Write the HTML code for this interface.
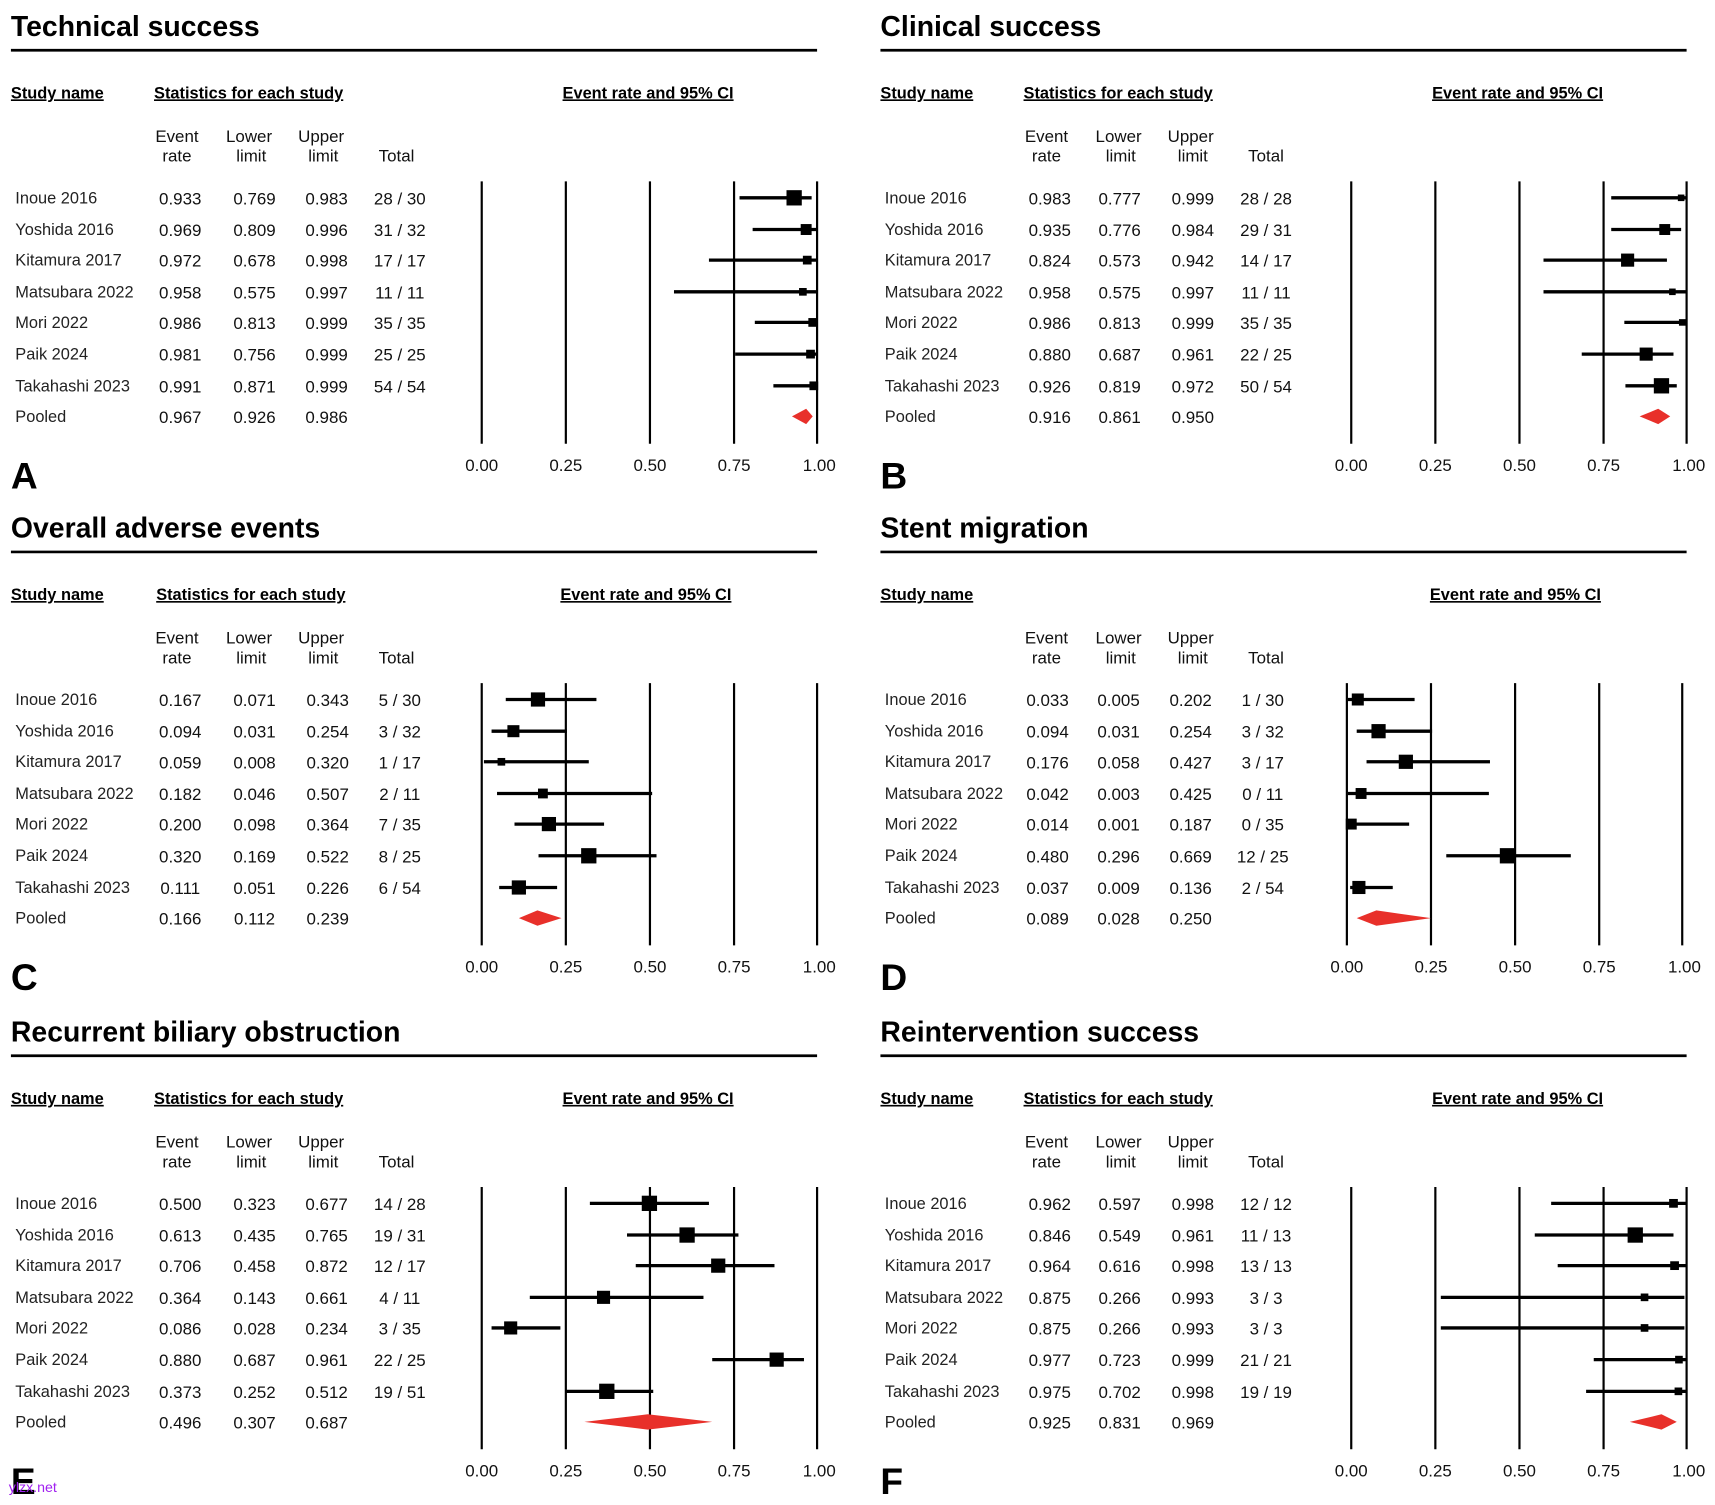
<!DOCTYPE html>
<html><head><meta charset="utf-8"><style>
html,body{margin:0;padding:0;background:#fff}
svg{display:block}
.t{font-family:"Liberation Sans",sans-serif;font-size:26px;font-weight:bold;fill:#000}
.h{font-family:"Liberation Sans",sans-serif;font-size:15px;font-weight:bold;fill:#000;text-decoration:underline}
.c{font-family:"Liberation Sans",sans-serif;font-size:15.5px;fill:#111;text-anchor:middle}
.n{font-family:"Liberation Sans",sans-serif;font-size:15px;fill:#222}
.v{font-family:"Liberation Sans",sans-serif;font-size:15.5px;fill:#111;text-anchor:middle}
.L{font-family:"Liberation Sans",sans-serif;font-size:34px;font-weight:bold;fill:#000}
.ax line{stroke:#000;stroke-width:2}
.ci line{stroke:#000;stroke-width:3}
.sq rect{fill:#000}
.d{fill:#e8302a}
</style></head><body>
<svg width="1715" height="1505" viewBox="0 0 1570 1377" preserveAspectRatio="none" xmlns="http://www.w3.org/2000/svg">
<defs>
<g id="axis" class="ax">
<line x1="441" y1="166" x2="441" y2="406"/><line x1="518" y1="166" x2="518" y2="406"/><line x1="595" y1="166" x2="595" y2="406"/><line x1="672" y1="166" x2="672" y2="406"/><line x1="748" y1="166" x2="748" y2="406"/>
<text class="v" x="441" y="431">0.00</text><text class="v" x="518" y="431">0.25</text><text class="v" x="595" y="431">0.50</text><text class="v" x="672" y="431">0.75</text><text class="v" x="750" y="431">1.00</text>
</g>
<g id="colh">
<line x1="10" y1="46" x2="748" y2="46" stroke="#000" stroke-width="2.5"/>
<text class="c" x="162" y="130">Event</text><text class="c" x="162" y="148">rate</text>
<text class="c" x="228" y="130">Lower</text><text class="c" x="230" y="148">limit</text>
<text class="c" x="294" y="130">Upper</text><text class="c" x="296" y="148">limit</text>
<text class="c" x="363" y="148">Total</text>
<text class="n" x="14" y="186">Inoue 2016</text><text class="n" x="14" y="215">Yoshida 2016</text><text class="n" x="14" y="243">Kitamura 2017</text><text class="n" x="14" y="272">Matsubara 2022</text><text class="n" x="14" y="300">Mori 2022</text><text class="n" x="14" y="329">Paik 2024</text><text class="n" x="14" y="358">Takahashi 2023</text><text class="n" x="14" y="386">Pooled</text>
</g>
</defs>

<!-- A -->
<g>
<text class="t" x="10" y="33">Technical success</text>
<use href="#colh"/>
<text class="h" x="10" y="90">Study name</text><text class="h" x="141" y="90">Statistics for each study</text><text class="h" x="515" y="90">Event rate and 95% CI</text>
<g class="v">
<text x="165" y="187">0.933</text><text x="233" y="187">0.769</text><text x="299" y="187">0.983</text><text x="366" y="187">28 / 30</text>
<text x="165" y="216">0.969</text><text x="233" y="216">0.809</text><text x="299" y="216">0.996</text><text x="366" y="216">31 / 32</text>
<text x="165" y="244">0.972</text><text x="233" y="244">0.678</text><text x="299" y="244">0.998</text><text x="366" y="244">17 / 17</text>
<text x="165" y="273">0.958</text><text x="233" y="273">0.575</text><text x="299" y="273">0.997</text><text x="366" y="273">11 / 11</text>
<text x="165" y="301">0.986</text><text x="233" y="301">0.813</text><text x="299" y="301">0.999</text><text x="366" y="301">35 / 35</text>
<text x="165" y="330">0.981</text><text x="233" y="330">0.756</text><text x="299" y="330">0.999</text><text x="366" y="330">25 / 25</text>
<text x="165" y="359">0.991</text><text x="233" y="359">0.871</text><text x="299" y="359">0.999</text><text x="366" y="359">54 / 54</text>
<text x="165" y="387">0.967</text><text x="233" y="387">0.926</text><text x="299" y="387">0.986</text>
</g>
<use href="#axis"/>
<g class="ci"><line x1="677" y1="181" x2="743" y2="181"/><line x1="689" y1="210" x2="747" y2="210"/><line x1="649" y1="238" x2="747" y2="238"/><line x1="617" y1="267" x2="747" y2="267"/><line x1="691" y1="295" x2="748" y2="295"/><line x1="673" y1="324" x2="748" y2="324"/><line x1="708" y1="353" x2="748" y2="353"/></g>
<g class="sq"><rect x="720" y="174" width="14" height="14"/><rect x="733" y="205" width="10" height="10"/><rect x="735" y="234" width="8" height="8"/><rect x="731.5" y="263.5" width="7" height="7"/><rect x="740" y="291" width="8" height="8"/><rect x="738" y="320" width="8" height="8"/><rect x="741" y="349" width="8" height="8"/></g>
<polygon class="d" points="725,381 738,374 744,381 738,388"/>
<text class="L" x="10" y="447">A</text>
</g>

<!-- B -->
<g transform="translate(796,0)">
<text class="t" x="10" y="33">Clinical success</text>
<use href="#colh"/>
<text class="h" x="10" y="90">Study name</text><text class="h" x="141" y="90">Statistics for each study</text><text class="h" x="515" y="90">Event rate and 95% CI</text>
<g class="v">
<text x="165" y="187">0.983</text><text x="229" y="187">0.777</text><text x="296" y="187">0.999</text><text x="363" y="187">28 / 28</text>
<text x="165" y="216">0.935</text><text x="229" y="216">0.776</text><text x="296" y="216">0.984</text><text x="363" y="216">29 / 31</text>
<text x="165" y="244">0.824</text><text x="229" y="244">0.573</text><text x="296" y="244">0.942</text><text x="363" y="244">14 / 17</text>
<text x="165" y="273">0.958</text><text x="229" y="273">0.575</text><text x="296" y="273">0.997</text><text x="363" y="273">11 / 11</text>
<text x="165" y="301">0.986</text><text x="229" y="301">0.813</text><text x="296" y="301">0.999</text><text x="363" y="301">35 / 35</text>
<text x="165" y="330">0.880</text><text x="229" y="330">0.687</text><text x="296" y="330">0.961</text><text x="363" y="330">22 / 25</text>
<text x="165" y="359">0.926</text><text x="229" y="359">0.819</text><text x="296" y="359">0.972</text><text x="363" y="359">50 / 54</text>
<text x="165" y="387">0.916</text><text x="229" y="387">0.861</text><text x="296" y="387">0.950</text>
</g>
<use href="#axis"/>
<g class="ci"><line x1="679" y1="181" x2="748" y2="181"/><line x1="679" y1="210" x2="743" y2="210"/><line x1="617" y1="238" x2="730" y2="238"/><line x1="617" y1="267" x2="747" y2="267"/><line x1="691" y1="295" x2="748" y2="295"/><line x1="652" y1="324" x2="736" y2="324"/><line x1="692" y1="353" x2="739" y2="353"/></g>
<g class="sq"><rect x="740" y="178" width="6" height="6"/><rect x="723" y="205" width="10" height="10"/><rect x="688" y="232" width="12" height="12"/><rect x="732" y="264" width="6" height="6"/><rect x="741" y="292" width="6" height="6"/><rect x="705" y="318" width="12" height="12"/><rect x="718" y="346" width="14" height="14"/></g>
<polygon class="d" points="705,381 722,374 733,381 722,388"/>
<text class="L" x="10" y="447">B</text>
</g>

<!-- C -->
<g transform="translate(0,459)">
<text class="t" x="10" y="33">Overall adverse events</text>
<use href="#colh"/>
<text class="h" x="10" y="90">Study name</text><text class="h" x="143" y="90">Statistics for each study</text><text class="h" x="513" y="90">Event rate and 95% CI</text>
<g class="v">
<text x="165" y="187">0.167</text><text x="233" y="187">0.071</text><text x="300" y="187">0.343</text><text x="366" y="187">5 / 30</text>
<text x="165" y="216">0.094</text><text x="233" y="216">0.031</text><text x="300" y="216">0.254</text><text x="366" y="216">3 / 32</text>
<text x="165" y="244">0.059</text><text x="233" y="244">0.008</text><text x="300" y="244">0.320</text><text x="366" y="244">1 / 17</text>
<text x="165" y="273">0.182</text><text x="233" y="273">0.046</text><text x="300" y="273">0.507</text><text x="366" y="273">2 / 11</text>
<text x="165" y="301">0.200</text><text x="233" y="301">0.098</text><text x="300" y="301">0.364</text><text x="366" y="301">7 / 35</text>
<text x="165" y="330">0.320</text><text x="233" y="330">0.169</text><text x="300" y="330">0.522</text><text x="366" y="330">8 / 25</text>
<text x="165" y="359">0.111</text><text x="233" y="359">0.051</text><text x="300" y="359">0.226</text><text x="366" y="359">6 / 54</text>
<text x="165" y="387">0.166</text><text x="233" y="387">0.112</text><text x="300" y="387">0.239</text>
</g>
<use href="#axis"/>
<g class="ci"><line x1="463" y1="181" x2="546" y2="181"/><line x1="450" y1="210" x2="519" y2="210"/><line x1="443" y1="238" x2="539" y2="238"/><line x1="455" y1="267" x2="597" y2="267"/><line x1="471" y1="295" x2="553" y2="295"/><line x1="493" y1="324" x2="601" y2="324"/><line x1="457" y1="353" x2="510" y2="353"/></g>
<g class="sq"><rect x="486" y="174.5" width="13" height="13"/><rect x="464.5" y="204.5" width="11" height="11"/><rect x="455.5" y="234.5" width="7" height="7"/><rect x="492.5" y="262.5" width="9" height="9"/><rect x="496" y="288.5" width="13" height="13"/><rect x="532" y="317" width="14" height="14"/><rect x="468.5" y="346.5" width="13" height="13"/></g>
<polygon class="d" points="475,381 492,374 514,381 492,388"/>
<text class="L" x="10" y="447">C</text>
</g>

<!-- D -->
<g transform="translate(796,459)">
<text class="t" x="10" y="33">Stent migration</text>
<use href="#colh"/>
<text class="h" x="10" y="90">Study name</text><text class="h" x="513" y="90">Event rate and 95% CI</text>
<g class="v">
<text x="163" y="187">0.033</text><text x="228" y="187">0.005</text><text x="294" y="187">0.202</text><text x="360" y="187">1 / 30</text>
<text x="163" y="216">0.094</text><text x="228" y="216">0.031</text><text x="294" y="216">0.254</text><text x="360" y="216">3 / 32</text>
<text x="163" y="244">0.176</text><text x="228" y="244">0.058</text><text x="294" y="244">0.427</text><text x="360" y="244">3 / 17</text>
<text x="163" y="273">0.042</text><text x="228" y="273">0.003</text><text x="294" y="273">0.425</text><text x="360" y="273">0 / 11</text>
<text x="163" y="301">0.014</text><text x="228" y="301">0.001</text><text x="294" y="301">0.187</text><text x="360" y="301">0 / 35</text>
<text x="163" y="330">0.480</text><text x="228" y="330">0.296</text><text x="294" y="330">0.669</text><text x="360" y="330">12 / 25</text>
<text x="163" y="359">0.037</text><text x="228" y="359">0.009</text><text x="294" y="359">0.136</text><text x="360" y="359">2 / 54</text>
<text x="163" y="387">0.089</text><text x="228" y="387">0.028</text><text x="294" y="387">0.250</text>
</g>
<g transform="translate(-4,0)">
<use href="#axis"/>
<g class="ci"><line x1="442" y1="181" x2="503" y2="181"/><line x1="450" y1="210" x2="519" y2="210"/><line x1="459" y1="238" x2="572" y2="238"/><line x1="442" y1="267" x2="571" y2="267"/><line x1="441" y1="295" x2="498" y2="295"/><line x1="532" y1="324" x2="646" y2="324"/><line x1="444" y1="353" x2="483" y2="353"/></g>
<g class="sq"><rect x="445.5" y="175.5" width="11" height="11"/><rect x="463.5" y="203.5" width="13" height="13"/><rect x="488.5" y="231.5" width="13" height="13"/><rect x="449" y="262" width="10" height="10"/><rect x="440" y="290" width="10" height="10"/><rect x="581" y="317" width="14" height="14"/><rect x="446" y="347" width="12" height="12"/></g>
<polygon class="d" points="450,381 468,374 518,381 468,388"/>
</g>
<text class="L" x="10" y="447">D</text>
</g>

<!-- E -->
<g transform="translate(0,920)">
<text class="t" x="10" y="33">Recurrent biliary obstruction</text>
<use href="#colh"/>
<text class="h" x="10" y="90">Study name</text><text class="h" x="141" y="90">Statistics for each study</text><text class="h" x="515" y="90">Event rate and 95% CI</text>
<g class="v">
<text x="165" y="187">0.500</text><text x="233" y="187">0.323</text><text x="299" y="187">0.677</text><text x="366" y="187">14 / 28</text>
<text x="165" y="216">0.613</text><text x="233" y="216">0.435</text><text x="299" y="216">0.765</text><text x="366" y="216">19 / 31</text>
<text x="165" y="244">0.706</text><text x="233" y="244">0.458</text><text x="299" y="244">0.872</text><text x="366" y="244">12 / 17</text>
<text x="165" y="273">0.364</text><text x="233" y="273">0.143</text><text x="299" y="273">0.661</text><text x="366" y="273">4 / 11</text>
<text x="165" y="301">0.086</text><text x="233" y="301">0.028</text><text x="299" y="301">0.234</text><text x="366" y="301">3 / 35</text>
<text x="165" y="330">0.880</text><text x="233" y="330">0.687</text><text x="299" y="330">0.961</text><text x="366" y="330">22 / 25</text>
<text x="165" y="359">0.373</text><text x="233" y="359">0.252</text><text x="299" y="359">0.512</text><text x="366" y="359">19 / 51</text>
<text x="165" y="387">0.496</text><text x="233" y="387">0.307</text><text x="299" y="387">0.687</text>
</g>
<use href="#axis"/>
<g class="ci"><line x1="540" y1="181" x2="649" y2="181"/><line x1="574" y1="210" x2="676" y2="210"/><line x1="582" y1="238" x2="709" y2="238"/><line x1="485" y1="267" x2="644" y2="267"/><line x1="450" y1="295" x2="513" y2="295"/><line x1="652" y1="324" x2="736" y2="324"/><line x1="518" y1="353" x2="598" y2="353"/></g>
<g class="sq"><rect x="587.5" y="174" width="14" height="14"/><rect x="622" y="203" width="14" height="14"/><rect x="651" y="231.5" width="13" height="13"/><rect x="546.5" y="261" width="12" height="12"/><rect x="461.5" y="289" width="12" height="12"/><rect x="704.5" y="317.5" width="13" height="13"/><rect x="548.5" y="346" width="14" height="14"/></g>
<polygon class="d" points="535,381 593,374 652,381 593,388"/>
<text class="L" x="10" y="447">E</text>
<text x="8" y="445" style="font-family:'Liberation Sans',sans-serif;font-size:13px;fill:#a020f0">ylzx.net</text>
</g>

<!-- F -->
<g transform="translate(796,920)">
<text class="t" x="10" y="33">Reintervention success</text>
<use href="#colh"/>
<text class="h" x="10" y="90">Study name</text><text class="h" x="141" y="90">Statistics for each study</text><text class="h" x="515" y="90">Event rate and 95% CI</text>
<g class="v">
<text x="165" y="187">0.962</text><text x="229" y="187">0.597</text><text x="296" y="187">0.998</text><text x="363" y="187">12 / 12</text>
<text x="165" y="216">0.846</text><text x="229" y="216">0.549</text><text x="296" y="216">0.961</text><text x="363" y="216">11 / 13</text>
<text x="165" y="244">0.964</text><text x="229" y="244">0.616</text><text x="296" y="244">0.998</text><text x="363" y="244">13 / 13</text>
<text x="165" y="273">0.875</text><text x="229" y="273">0.266</text><text x="296" y="273">0.993</text><text x="363" y="273">3 / 3</text>
<text x="165" y="301">0.875</text><text x="229" y="301">0.266</text><text x="296" y="301">0.993</text><text x="363" y="301">3 / 3</text>
<text x="165" y="330">0.977</text><text x="229" y="330">0.723</text><text x="296" y="330">0.999</text><text x="363" y="330">21 / 21</text>
<text x="165" y="359">0.975</text><text x="229" y="359">0.702</text><text x="296" y="359">0.998</text><text x="363" y="359">19 / 19</text>
<text x="165" y="387">0.925</text><text x="229" y="387">0.831</text><text x="296" y="387">0.969</text>
</g>
<use href="#axis"/>
<g class="ci"><line x1="624" y1="181" x2="747" y2="181"/><line x1="609" y1="210" x2="736" y2="210"/><line x1="630" y1="238" x2="747" y2="238"/><line x1="523" y1="267" x2="746" y2="267"/><line x1="523" y1="295" x2="746" y2="295"/><line x1="663" y1="324" x2="748" y2="324"/><line x1="656" y1="353" x2="747" y2="353"/></g>
<g class="sq"><rect x="732" y="177" width="8" height="8"/><rect x="694" y="203" width="14" height="14"/><rect x="733" y="234" width="8" height="8"/><rect x="706" y="263.5" width="7" height="7"/><rect x="706" y="291.5" width="7" height="7"/><rect x="737.5" y="320.5" width="7" height="7"/><rect x="737" y="349.5" width="7" height="7"/></g>
<polygon class="d" points="696,381 725,374 739,381 725,388"/>
<text class="L" x="10" y="447">F</text>
</g>
</svg>
</body></html>
